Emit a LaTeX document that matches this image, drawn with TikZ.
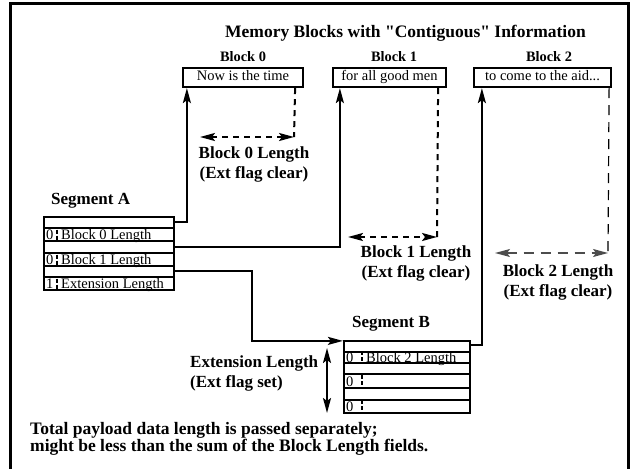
\documentclass[tikz,border=0pt]{standalone}
\usepackage{fontspec}
\setmainfont{Liberation Serif}[Ligatures=TeXOff]
\usetikzlibrary{arrows.meta}

\begin{document}
\begin{tikzpicture}[x=1pt,y=-1pt,
  >={Stealth[length=15pt,width=8pt,inset=3pt]},
  outline/.style={line width=3pt},
  blkbox/.style={draw, line width=2.2pt, minimum height=19pt, inner sep=0pt,
    text height=10pt, text depth=3pt, font=\fontsize{14.5}{16}\selectfont},
  segbox/.style={draw, line width=2.2pt, inner sep=0pt},
  rowline/.style={line width=2.2pt},
  celltxt/.style={anchor=base west, inner sep=0pt, font=\fontsize{14.5}{16}\selectfont},
  flagtick/.style={line width=1.2pt, dash pattern=on 4pt off 2pt},
  ptr/.style={line width=2pt, ->},
  twoway/.style={line width=2pt, <->},
  extent/.style={line width=2pt, dash pattern=on 6pt off 5pt},
  extentlight/.style={line width=1.2pt, dash pattern=on 10pt off 7pt},
  lbl/.style={font=\bfseries\fontsize{17}{20}\selectfont, inner sep=0pt, align=center, anchor=north},
  heading/.style={font=\bfseries\fontsize{14.4}{16}\selectfont, inner sep=0pt, anchor=base},
]
\useasboundingbox (0,0) rectangle (631,468);
\draw[outline] (10,475) -- (10,4) -- (628,4) -- (628,475);

% title and memory blocks
\node[font=\bfseries\fontsize{17.5}{20}\selectfont, inner sep=0pt, anchor=base] (title) at (405.5,38)
  {Memory Blocks with "Contiguous" Information};
\node[heading] (lab0) at (243,62) {Block 0};
\node[heading] (lab1) at (394,62) {Block 1};
\node[heading] (lab2) at (549,62) {Block 2};
\node[blkbox, minimum width=120pt] (blk0) at (243,77.5) {Now is the time};
\node[blkbox, minimum width=113pt] (blk1) at (389.5,77.5) {for all good men};
\node[blkbox, minimum width=137pt] (blk2) at (542.5,77.5) {to come to the aid...};

% block lengths
\coordinate (d0) at (294,137);
\coordinate (s0) at (200,137);
\coordinate (d1) at (437,237);
\coordinate (s1) at (348,237);
\coordinate (d2) at (608,253);
\coordinate (s2) at (495,253);
\draw[extent] ([xshift=-9pt]blk0.south east) -- (d0);
\draw[extent,<->] (s0) -- (d0);
\draw[extent] ([xshift=-9pt]blk1.south east) -- (d1);
\draw[extent,<->] (s1) -- (d1);
\draw[extentlight] ([xshift=-3pt]blk2.south east) -- (d2);
\draw[extentlight,black!70,<->] (s2) -- (d2);
\node[lbl] (len0) at (254,147) {Block 0 Length\\(Ext flag clear)};
\node[lbl] (len1) at (416,246) {Block 1 Length\\(Ext flag clear)};
\node[lbl] (len2) at (558,265) {Block 2 Length\\(Ext flag clear)};

% segment A
\node[font=\bfseries\fontsize{17}{20}\selectfont, inner sep=0pt, anchor=base west] (segAlab) at (51,204) {Segment A};
\node[segbox, minimum width=130pt, minimum height=73pt] (segA) at (109,253.5) {};
\foreach \yb/\flag/\txt [count=\i] in {239.5/0/Block 0 Length, 264.5/0/Block 1 Length, 288.5/1/Extension Length}{
  \node[celltxt] (flagA\i) at (46,\yb) {\flag};
  \node[celltxt] (lenA\i) at (61,\yb) {\txt};
  \draw[flagtick] (57,\yb-10) -- (57,\yb);
}
\foreach \y in {228,241,253,266,277}
  \draw[rowline] (segA.west |- 0,\y) -- (segA.east |- 0,\y);

% segment B
\node[font=\bfseries\fontsize{17}{20}\selectfont, inner sep=0pt, anchor=base] (segBlab) at (391,327) {Segment B};
\node[segbox, minimum width=126pt, minimum height=72pt] (segB) at (407,377) {};
\foreach \yb [count=\i] in {362,386,411}{
  \node[celltxt] (flagB\i) at (346,\yb) {0};
  \draw[flagtick] (362,\yb-11) -- (362,\yb);
}
\node[celltxt] (lenB1) at (366,362) {Block 2 Length};
\foreach \y in {352,363,374,388,400}
  \draw[rowline] (segB.west |- 0,\y) -- (segB.east |- 0,\y);

% pointers
\coordinate (bend) at (252,271);
\draw[ptr] (segA.east |- 0,222) -| ([xshift=5pt]blk0.south west);
\draw[ptr] (segA.east |- 0,247) -| ([xshift=8pt]blk1.south west);
\draw[ptr] (segA.east |- bend) -- (bend) |- ([yshift=-1pt]segB.north west);
\draw[ptr] (segB.east |- 0,345) -| ([xshift=9pt]blk2.south west);

% extension length
\coordinate (et) at (327,348);
\coordinate (eb) at (327,413);
\draw[twoway] (et) -- (eb);
\node[lbl, anchor=north west, align=left] (extlen) at (190,355) {Extension Length\\(Ext flag set)};

\node[anchor=north west, inner sep=0pt, align=left, font=\bfseries\fontsize{17.5}{17}\selectfont] (note) at (30,422)
  {Total payload data length is passed separately;\\might be less than the sum of the Block Length fields.};
\end{tikzpicture}
\end{document}
